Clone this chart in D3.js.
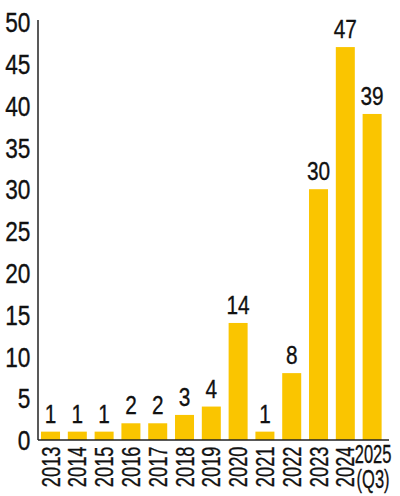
<!DOCTYPE html>
<html>
<head>
<meta charset="utf-8">
<script src="https://cdn.jsdelivr.net/npm/d3@7"></script>
<style>
  body { margin: 0; background: #fff; }
  svg text { font-family: "Liberation Sans", Arial, sans-serif; fill: #111; stroke: #111; stroke-width: 0.35px; }
</style>
</head>
<body>
<div id="chart"></div>
<script>
var years = ['2013', '2014', '2015', '2016', '2017', '2018', '2019', '2020', '2021', '2022', '2023', '2024', '2025'];
var counts = [1, 1, 1, 2, 2, 3, 4, 14, 1, 8, 30, 47, 39];
var yTicks = [0, 5, 10, 15, 20, 25, 30, 35, 40, 45, 50];
var lastNote = '(Q3)';

var width = 400, height = 496;
var data = years.map(function(y, i) { return { year: y, value: counts[i] }; });

var svg = d3.select('#chart').append('svg')
    .attr('width', width)
    .attr('height', height);

var x = d3.scaleBand()
    .domain(years)
    .range([38, 389])
    .paddingInner(0.291)
    .paddingOuter(0.194)
    .align(0.29);

var y = d3.scaleLinear()
    .domain([0, 50])
    .range([440, 22]);

// bars
svg.selectAll('rect.bar')
    .data(data)
    .enter().append('rect')
    .attr('class', 'bar')
    .attr('x', function(d) { return x(d.year); })
    .attr('y', function(d) { return y(d.value); })
    .attr('width', x.bandwidth())
    .attr('height', function(d) { return y(0) - y(d.value); })
    .attr('fill', '#FAC500');

// value labels (condensed look via horizontal squeeze)
svg.selectAll('text.val')
    .data(data)
    .enter().append('text')
    .attr('class', 'val')
    .attr('transform', function(d) {
        return 'translate(' + (x(d.year) + x.bandwidth() / 2) + ',' + (y(d.value) - 9) + ') scale(0.8,1)';
    })
    .attr('text-anchor', 'middle')
    .style('font-size', '26px')
    .text(function(d) { return d.value; });

// y axis
var axisY = d3.axisLeft(y).tickValues(yTicks).tickSize(0).tickPadding(9);
var gy = svg.append('g')
    .attr('transform', 'translate(38,0)')
    .call(axisY);
gy.select('.domain').attr('stroke', '#222').attr('stroke-width', 1.5)
    .attr('d', 'M0,' + (y(50) - 2) + 'V' + y(0));
gy.selectAll('text')
    .style('font-size', '27px')
    .attr('dy', '0.36em')
    .attr('transform', 'scale(0.84,1)');

// x axis
var axisX = d3.axisBottom(x).tickSize(0).tickPadding(6);
var gx = svg.append('g')
    .attr('transform', 'translate(0,' + y(0) + ')')
    .call(axisX);
gx.select('.domain').attr('stroke', '#222').attr('stroke-width', 1.5)
    .attr('d', 'M' + x.range()[0] + ',0H' + x.range()[1]);
gx.selectAll('.tick text')
    .style('font-size', '25px')
    .attr('y', 0)
    .attr('dy', null)
    .each(function(d, i) {
        var t = d3.select(this);
        if (i === years.length - 1) {
            t.attr('text-anchor', 'middle').attr('y', 23)
                .attr('transform', 'translate(1,0) scale(0.66,1)').text(d);
            t.append('tspan').attr('x', 0).attr('dy', '1em').text(lastNote);
        } else {
            t.attr('text-anchor', 'end')
                .attr('transform', 'rotate(-90) scale(0.73,1)')
                .attr('x', -9)
                .attr('dy', '0.36em');
        }
    });
</script>
</body>
</html>
